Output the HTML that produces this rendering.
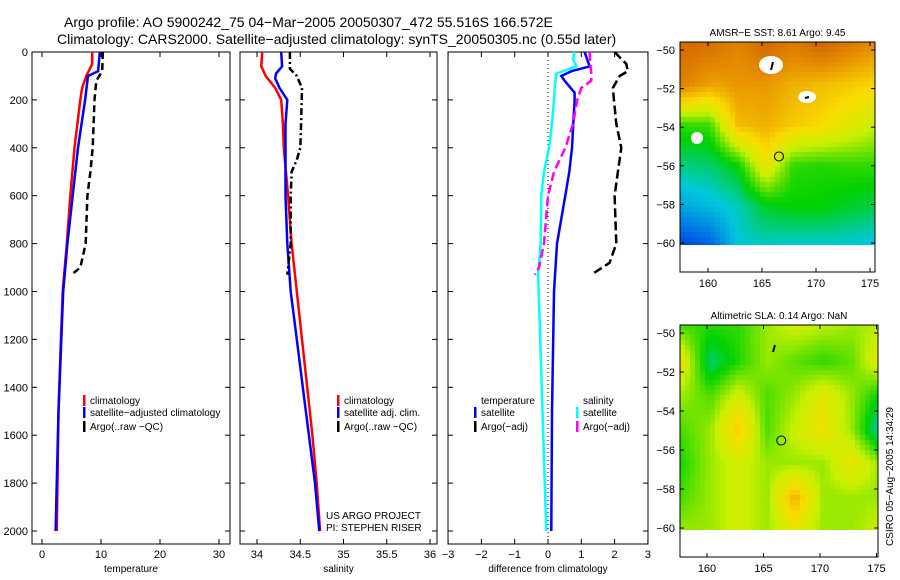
<!DOCTYPE html>
<html><head><meta charset="utf-8">
<style>
body{margin:0;background:#fff;}
#wrap{position:relative;width:900px;height:580px;overflow:hidden;font-family:"Liberation Sans",sans-serif;}
svg{position:absolute;left:0;top:0;}
canvas{position:absolute;image-rendering:pixelated;}
</style></head>
<body>
<div id="wrap">
<canvas id="sst" width="195" height="203" style="left:680px;top:42px;width:195px;height:203px"></canvas>
<canvas id="sla" width="198" height="205" style="left:680px;top:325px;width:198px;height:205px"></canvas>
<svg id="fig" width="900" height="580" xmlns="http://www.w3.org/2000/svg"></svg>
</div>
<script>
// ---- data ----
const tDepth = [0,50,100,150,200,400,600,800,1000,1200,1500,2000];
const tClim  = [8.5,8.5,7.5,6.8,6.5,5.5,4.8,4.2,3.5,3.2,2.8,2.5];
const tSatD  = [0,80,100,200,400,600,800,1000,1500,2000];
const tSat   = [9.8,9.5,7.8,7.3,6.1,5.2,4.3,3.6,2.8,2.3];
const tArgoD = [0,80,120,200,400,500,600,800,900,930];
const tArgo  = [10.3,10.2,9.2,8.9,8.6,8.2,7.7,7.4,6.5,5.0];

const sClimD = [0,60,100,150,200,300,400,600,800,1000,1200,1400,1600,1800,2000];
const sClim  = [34.06,34.05,34.1,34.21,34.28,34.3,34.31,34.36,34.4,34.46,34.52,34.58,34.64,34.69,34.73];
const sSatD  = [0,60,90,110,150,200,300,600,800,1000,1200,1400,1600,1800,2000];
const sSat   = [34.28,34.29,34.22,34.21,34.26,34.35,34.33,34.33,34.35,34.39,34.46,34.53,34.6,34.67,34.72];
const sArgoD = [0,70,100,150,300,400,450,500,600,800,900,930];
const sArgo  = [34.38,34.38,34.46,34.52,34.51,34.5,34.46,34.4,34.39,34.39,34.36,34.35];

const dSalSatD = [0,30,60,90,150,200,300,400,500,600,800,930,1000,2000];
const dSalSat  = [0.8,0.75,0.85,0.25,0.2,0.18,0.12,0.03,-0.12,-0.2,-0.22,-0.3,-0.28,-0.05];
const dTmpSatD = [0,60,80,100,120,170,200,400,500,600,800,1000,1500,2000];
const dTmpSat  = [1.1,1.25,0.7,0.4,0.5,0.8,0.8,0.72,0.64,0.52,0.27,0.18,0.12,0.1];
const dSalArgoD = [0,50,90,120,150,200,300,400,500,600,800,900,930];
const dSalArgo  = [1.25,1.27,1.3,1.3,1.0,0.88,0.75,0.52,0.18,0.0,-0.12,-0.27,-0.4];
const dTmpArgoD = [0,50,80,100,150,200,300,400,500,600,800,880,930];
const dTmpArgo  = [2.0,2.35,2.4,2.15,1.95,1.98,2.05,2.2,2.1,2.0,2.05,1.85,1.3];

const depthTicks = [0,200,400,600,800,1000,1200,1400,1600,1800,2000];
const tTicks = [0,10,20,30];
const sTicks = [34,34.5,35,35.5,36];
const dTicks = [-3,-2,-1,0,1,2,3];
const latTicks = [-50,-52,-54,-56,-58,-60];
const lonTicks = [160,165,170,175];

// coarse fields (rows lat -50 -> -60, cols lon 157.6 -> 175.5), 0..1 colour index
const sstGrid = [
 [0.86,0.85,0.8,0.86,0.82,0.87,0.82,0.78],
 [0.8,0.74,0.76,0.76,0.72,0.7,0.68,0.66],
 [0.45,0.46,0.7,0.72,0.68,0.65,0.6,0.55],
 [0.35,0.36,0.42,0.62,0.45,0.44,0.45,0.45],
 [0.25,0.28,0.32,0.4,0.42,0.42,0.4,0.38],
 [0.1,0.14,0.3,0.31,0.3,0.3,0.3,0.28]];
const slaGrid = [
 [0.47,0.44,0.45,0.52,0.56,0.54,0.52,0.54],
 [0.6,0.36,0.44,0.52,0.48,0.45,0.48,0.6],
 [0.52,0.47,0.57,0.47,0.52,0.6,0.52,0.42],
 [0.47,0.52,0.68,0.47,0.56,0.63,0.52,0.32],
 [0.44,0.52,0.57,0.52,0.52,0.52,0.62,0.52],
 [0.47,0.52,0.57,0.52,0.72,0.52,0.52,0.52],
 [0.52,0.52,0.57,0.52,0.6,0.52,0.52,0.56]];

// ---- helpers ----
const NS='http://www.w3.org/2000/svg';
const svg=document.getElementById('fig');
function el(tag,attrs,parent){const e=document.createElementNS(NS,tag);for(const k in attrs)e.setAttribute(k,attrs[k]);(parent||svg).appendChild(e);return e;}
function txt(x,y,s,size,anchor,name){const t=el('text',{x:x,y:y,'font-size':size,'text-anchor':anchor||'start',fill:'#000','font-family':'Liberation Sans, sans-serif'});t.textContent=s;


return t;}

const yTop=52, pxPerM=0.2395;
function yD(d){return yTop+d*pxPerM;}

function panel(name,x0,x1,xs,ticks,fmt,label,showY){
  const r=el('rect',{x:x0,y:yTop,width:x1-x0,height:544-yTop,fill:'none',stroke:'#000','stroke-width':1});
  
  
  ticks.forEach(v=>{const x=xs(v);
    el('line',{x1:x,x2:x,y1:544,y2:539,stroke:'#000'});el('line',{x1:x,x2:x,y1:yTop,y2:yTop+5,stroke:'#000'});
    txt(x,558,fmt(v),11,'middle',name+'-x-tick-label');});
  depthTicks.forEach(d=>{const y=yD(d);
    el('line',{x1:x0,x2:x0+5,y1:y,y2:y,stroke:'#000'});el('line',{x1:x1,x2:x1-5,y1:y,y2:y,stroke:'#000'});
    if(showY)txt(x0-4,y+4,String(d),11,'end','depth-tick-label');});
  txt((x0+x1)/2,572,label,10,'middle',name+'-x-axis-title');
}
function line(xs,vals,deps,color,w,dash,name){
  const pts=vals.map((v,i)=>xs(v).toFixed(1)+','+yD(deps[i]).toFixed(1)).join(' ');
  const p=el('polyline',{points:pts,fill:'none',stroke:color,'stroke-width':w});
  if(dash)p.setAttribute('stroke-dasharray',dash);
  
  
}
function leg(x,y,color,label,name){el('rect',{x:x,y:y-9,width:2.5,height:11,fill:color});txt(x+7,y,label,10,'start',name);}

// titles
txt(64,27,'Argo profile: AO 5900242_75 04\u2212Mar\u22122005 20050307_472 55.516S 166.572E',14,'start','main-title');
txt(57,44,'Climatology: CARS2000. Satellite\u2212adjusted climatology: synTS_20050305.nc (0.55d later)',14,'start','subtitle');

// temperature panel
const xT=v=>42+v*5.9;
panel('temperature-panel',32,230,xT,tTicks,v=>String(v),'temperature',true);
line(xT,tClim,tDepth,'#f00',2.5,null,'temp-climatology-line');
line(xT,tSat,tSatD,'#00f',2.5,null,'temp-satellite-line');
line(xT,tArgo,tArgoD,'#000',2.5,'7,4','temp-argo-line');
leg(83,404,'#f00','climatology','legend-climatology');
leg(83,416,'#00f','satellite\u2212adjusted climatology','legend-satellite');
leg(83,430,'#000','Argo(..raw \u2212QC)','legend-argo');

// salinity panel
const xS=v=>257+(v-34)*86.5;
panel('salinity-panel',240,437,xS,sTicks,v=>String(v),'salinity',false);
line(xS,sClim,sClimD,'#f00',2.5,null,'sal-climatology-line');
line(xS,sSat,sSatD,'#00f',2.5,null,'sal-satellite-line');
line(xS,sArgo,sArgoD,'#000',2.5,'7,3,2,3','sal-argo-line');
leg(337,404,'#f00','climatology','legend-sal-climatology');
leg(337,416,'#00f','satellite adj. clim.','legend-sal-satellite');
leg(337,430,'#000','Argo(..raw \u2212QC)','legend-sal-argo');
txt(326,519,'US ARGO PROJECT',10,'start','project-label');
txt(326,531,'PI: STEPHEN RISER',10,'start','pi-label');

// difference panel
const xDf=v=>548+v*33.3;
panel('difference-panel',448,648,xDf,dTicks,v=>v<0?'\u2212'+(-v):String(v),'difference from climatology',false);
el('line',{x1:xDf(0),x2:xDf(0),y1:yTop,y2:544,stroke:'#000','stroke-dasharray':'1,3'});
line(xDf,dSalSat,dSalSatD,'#0ff',2.5,null,'diff-sal-satellite-line');
line(xDf,dTmpSat,dTmpSatD,'#00f',2.5,null,'diff-temp-satellite-line');
line(xDf,dSalArgo,dSalArgoD,'#f0f',2.5,'9,4','diff-sal-argo-line');
line(xDf,dTmpArgo,dTmpArgoD,'#000',2.5,'9,4','diff-temp-argo-line');
txt(481,404,'temperature',10,'start','legend-temperature-heading');
leg(474,416,'#00f','satellite','legend-diff-temp-satellite');
leg(474,430,'#000','Argo(\u2212adj)','legend-diff-temp-argo');
txt(583,404,'salinity',10,'start','legend-salinity-heading');
leg(576,416,'#0ff','satellite','legend-diff-sal-satellite');
leg(576,430,'#f0f','Argo(\u2212adj)','legend-diff-sal-argo');

// maps
function cmap(v){
  const st=[[0,0,0,140],[0.15,0,100,230],[0.3,0,200,220],[0.42,0,210,0],[0.55,200,240,0],[0.65,250,220,0],[0.78,230,140,0],[0.9,200,90,0],[1,160,20,0]];
  v=Math.max(0,Math.min(1,v));
  for(let i=1;i<st.length;i++){if(v<=st[i][0]){const a=st[i-1],b=st[i],t=(v-a[0])/(b[0]-a[0]);
    return [0,1,2].map(k=>Math.round(a[k+1]+(b[k+1]-a[k+1])*t));}}
  return [160,20,0];
}
function drawField(id,grid,W,H){
  const c=document.getElementById(id).getContext('2d');const R=grid.length,C=grid[0].length,cell=5;
  for(let y=0;y<H;y+=cell)for(let x=0;x<W;x+=cell){
    const gx=x/(W-1)*(C-1),gy=y/(H-1)*(R-1);const i=Math.min(Math.floor(gy),R-2),j=Math.min(Math.floor(gx),C-2);
    const fy=gy-i,fx=gx-j;
    const v=grid[i][j]*(1-fx)*(1-fy)+grid[i][j+1]*fx*(1-fy)+grid[i+1][j]*(1-fx)*fy+grid[i+1][j+1]*fx*fy;
    const col=cmap(v);c.fillStyle='rgb('+col+')';c.fillRect(x,y,cell,cell);}
}
drawField('sst',sstGrid,195,203);
drawField('sla',slaGrid,198,205);

function mapFrame(name,x0,x1,y0,y1,lat50,latPx,lonX,lonPx,title,labelsBottom){
  const r=el('rect',{x:x0,y:y0,width:x1-x0,height:y1-y0,fill:'none',stroke:'#000'});
  
  
  latTicks.forEach(l=>{const y=lat50+(-50-l)*latPx;
    el('line',{x1:x0,x2:x0+4,y1:y,y2:y,stroke:'#000'});el('line',{x1:x1,x2:x1-4,y1:y,y2:y,stroke:'#000'});
    txt(x0-5,y+4,'\u2212'+(-l),11,'end',name+'-lat-label');});
  lonTicks.forEach(l=>{const x=lonX+(l-160)*lonPx;
    el('line',{x1:x,x2:x,y1:y1,y2:y1-4,stroke:'#000'});el('line',{x1:x,x2:x,y1:y0,y2:y0+4,stroke:'#000'});
    if(labelsBottom)txt(x,y1+15,String(l),11,'middle',name+'-lon-label');});
  txt((x0+x1)/2,y0-6,title,10,'middle',name+'-title');
  const lat=-55.516,lon=166.572;
  el('circle',{cx:lonX+(lon-160)*lonPx,cy:lat50+(-50-lat)*latPx,r:4.5,fill:'none',stroke:'#000'});
}
mapFrame('sst-map',680,875,42,272,50,19.3,708,10.8,'AMSR\u2212E SST: 8.61 Argo: 9.45',true);
mapFrame('sla-map',680,878,325,557,333,19.5,707,11.3,'Altimetric SLA: 0.14 Argo: NaN',true);
// white cloud patches on SST
[[771,65,12,9],[807,97,9,6],[697,138,6,6]].forEach(p=>el('ellipse',{cx:p[0],cy:p[1],rx:p[2],ry:p[3],fill:'#fff'}));
el('line',{x1:771,y1:70,x2:773,y2:62,stroke:'#000','stroke-width':2});
el('line',{x1:805,y1:98,x2:809,y2:97,stroke:'#000','stroke-width':2});
el('line',{x1:773,y1:352,x2:775,y2:345,stroke:'#000','stroke-width':2});

const side=txt(0,0,'CSIRO 05\u2212Aug\u22122005 14:34:29',10,'start','timestamp-label');
side.setAttribute('transform','translate(893,546) rotate(-90)');
</script>
</body></html>
